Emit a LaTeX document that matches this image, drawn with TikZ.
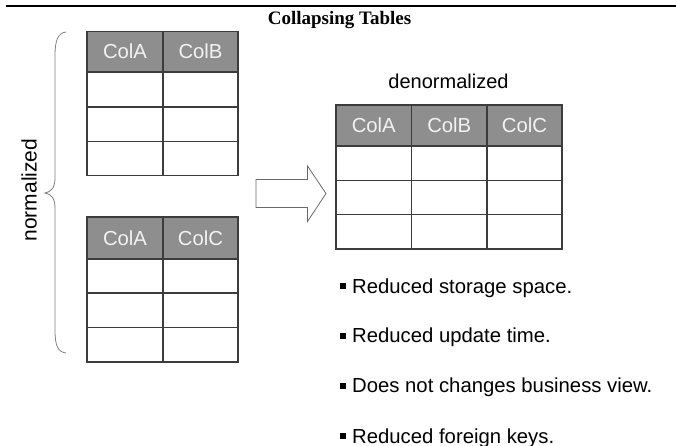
\documentclass[tikz,border=0pt]{standalone}
\usepackage{fontspec}
\setmainfont{Liberation Serif}
\setsansfont{Liberation Sans}
\usetikzlibrary{calc}

\definecolor{gridline}{HTML}{3C3C3C}
\definecolor{headfill}{HTML}{8E8E8E}
\definecolor{headtext}{HTML}{F2F2F2}
\definecolor{bracecol}{HTML}{808080}
\definecolor{arrowcol}{HTML}{6A6A6A}

% one table cell spanning the corners (#2,#3) and (#4,#5)
\newcommand{\tcell}[7]{%
  \node[#7, minimum width={(#4-#2)*1pt}, minimum height={(#5-#3)*1pt}]
    (#1) at ({(#2+#4)/2},{(#3+#5)/2}) {#6};}

\begin{document}
\begin{tikzpicture}[x=1pt,y=-1pt,
  cellbase/.style={draw=gridline, line width=1.1pt, inner sep=0pt, outer sep=0pt,
    font=\sffamily\fontsize{20.3}{24}\selectfont, text height=14.5pt, text depth=0pt},
  headcell/.style={cellbase, fill=headfill, text=headtext},
  bodycell/.style={cellbase, fill=white},
  bullet/.style={anchor=base west, inner sep=0pt, font=\sffamily\fontsize{20.3}{24}\selectfont},
]
\useasboundingbox (0,0) rectangle (676,446);

% rule and title
\coordinate (ruleL) at (6,6);
\coordinate (ruleR) at (676,6);
\draw[line width=2pt] (ruleL) -- (ruleR);
\node[anchor=base, inner sep=0pt, font=\rmfamily\bfseries\fontsize{19}{22}\selectfont]
  (title) at (339.5,25) {Collapsing Tables};

% first normalized table
\tcell{n1h1}{87}{31.5}{163}{72}{ColA}{headcell}
\tcell{n1h2}{163}{31.5}{238}{72}{ColB}{headcell}
\tcell{n1a1}{87}{72}{163}{107}{}{bodycell}
\tcell{n1a2}{163}{72}{238}{107}{}{bodycell}
\tcell{n1b1}{87}{107}{163}{141.5}{}{bodycell}
\tcell{n1b2}{163}{107}{238}{141.5}{}{bodycell}
\tcell{n1c1}{87}{141.5}{163}{175.5}{}{bodycell}
\tcell{n1c2}{163}{141.5}{238}{175.5}{}{bodycell}

% second normalized table
\tcell{n2h1}{87}{217}{163}{259}{ColA}{headcell}
\tcell{n2h2}{163}{217}{238}{259}{ColC}{headcell}
\tcell{n2a1}{87}{259}{163}{293}{}{bodycell}
\tcell{n2a2}{163}{259}{238}{293}{}{bodycell}
\tcell{n2b1}{87}{293}{163}{327.5}{}{bodycell}
\tcell{n2b2}{163}{293}{238}{327.5}{}{bodycell}
\tcell{n2c1}{87}{327.5}{163}{362}{}{bodycell}
\tcell{n2c2}{163}{327.5}{238}{362}{}{bodycell}

% denormalized table
\tcell{dh1}{336}{105}{411.5}{146}{ColA}{headcell}
\tcell{dh2}{411.5}{105}{487}{146}{ColB}{headcell}
\tcell{dh3}{487}{105}{562}{146}{ColC}{headcell}
\tcell{da1}{336}{146}{411.5}{180.5}{}{bodycell}
\tcell{da2}{411.5}{146}{487}{180.5}{}{bodycell}
\tcell{da3}{487}{146}{562}{180.5}{}{bodycell}
\tcell{db1}{336}{180.5}{411.5}{214.5}{}{bodycell}
\tcell{db2}{411.5}{180.5}{487}{214.5}{}{bodycell}
\tcell{db3}{487}{180.5}{562}{214.5}{}{bodycell}
\tcell{dc1}{336}{214.5}{411.5}{249}{}{bodycell}
\tcell{dc2}{411.5}{214.5}{487}{249}{}{bodycell}
\tcell{dc3}{487}{214.5}{562}{249}{}{bodycell}

% labels
\node[anchor=base, inner sep=0pt, font=\sffamily\fontsize{20}{24}\selectfont]
  (denorm) at (448.5,88.3) {denormalized};
\node[anchor=base, rotate=90, inner sep=0pt, font=\sffamily\fontsize{21}{24}\selectfont]
  (norm) at (36.7,190) {normalized};

% curly brace grouping the normalized tables
\draw[bracecol, line width=0.8pt]
  (66,32) .. controls (58,33) and (55,40) .. (55,56)
  -- (55,178) .. controls (55,188) and (51,192) .. (45,193)
  .. controls (51,194) and (55,198) .. (55,208)
  -- (55,330) .. controls (55,346) and (58,352) .. (66,353);

% block arrow
\draw[arrowcol, line width=0.8pt, fill=white]
  (256,179.5) -- (307.5,179.5) -- (307.5,166) -- (326,193.5)
  -- (307.5,221.5) -- (307.5,207.5) -- (256,207.5) -- cycle;

% bullet list
\newcommand{\bsq}{\raisebox{4pt}{\rule{6pt}{6pt}}\hspace{6.7pt}}
\node[bullet] (b1) at (339.3,293.3) {\bsq Reduced storage space.};
\node[bullet] (b2) at (339.3,342.7) {\bsq Reduced update time.};
\node[bullet] (b3) at (339.3,392.7) {\bsq Does not changes business view.};
\node[bullet] (b4) at (339.3,443.3) {\bsq Reduced foreign keys.};
\end{tikzpicture}
\end{document}
